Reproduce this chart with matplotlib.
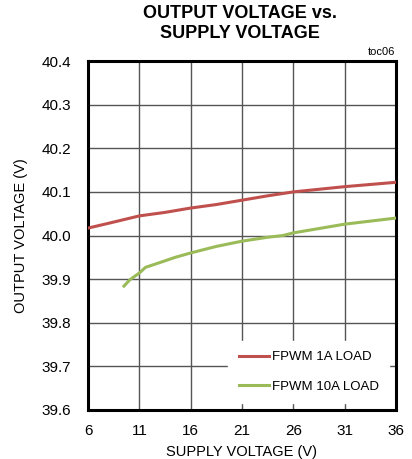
import matplotlib
matplotlib.use("Agg")
import matplotlib.pyplot as plt
from matplotlib import font_manager

names = {f.name for f in font_manager.fontManager.ttflist}
fam = ['Liberation Sans Narrow'] if 'Liberation Sans Narrow' in names else ['Liberation Sans']
plt.rcParams['font.family'] = fam + ['DejaVu Sans']

x_1a = [6, 8, 11, 13.5, 16, 18.5, 21, 23.5, 26, 28.5, 31, 33.5, 36]
y_1a = [40.017, 40.028, 40.045, 40.053, 40.063, 40.071, 40.081, 40.091, 40.100, 40.106, 40.112, 40.117, 40.122]
x_10a = [9.5, 10.1, 11, 11.6, 13, 14.5, 16, 18.5, 21, 23.5, 25, 26, 28.5, 31, 33.5, 36]
y_10a = [39.884, 39.899, 39.914, 39.927, 39.938, 39.950, 39.960, 39.975, 39.987, 39.996, 40.000, 40.006, 40.016, 40.026, 40.033, 40.040]

xticks = [6, 11, 16, 21, 26, 31, 36]
yticks = [39.6, 39.7, 39.8, 39.9, 40.0, 40.1, 40.2, 40.3, 40.4]

fig = plt.figure(figsize=(4.12, 4.59), dpi=100)
ax = fig.add_axes([0.2136, 0.1068, 0.7474, 0.7602])
ax.plot(x_1a, y_1a, color='#c0504d', lw=2.2, label='FPWM 1A LOAD', zorder=3)
ax.plot(x_10a, y_10a, color='#9bbb59', lw=2.2, label='FPWM 10A LOAD', zorder=3)
ax.set_xlim(6, 36)
ax.set_ylim(39.6, 40.4)
ax.set_xticks(xticks)
ax.set_yticks(yticks)
ax.set_xticklabels([str(v) for v in xticks])
ax.set_yticklabels([f"{v:.1f}" for v in yticks])
ax.grid(True, color='#555555', lw=1.0)
ax.tick_params(axis='y', length=0, labelsize=11, pad=12)
ax.tick_params(axis='x', length=0, labelsize=11, pad=10)
for s in ax.spines.values():
    s.set_linewidth(2.2)
    s.set_color('black')
ax.set_xlabel('SUPPLY VOLTAGE (V)', fontsize=10.5, labelpad=5)
ax.set_ylabel('OUTPUT VOLTAGE (V)', fontsize=10.5, labelpad=10)
leg = ax.legend(loc='lower right', bbox_to_anchor=(1.0, 0.0), frameon=True, fancybox=False,
                edgecolor='white', framealpha=1, fontsize=9.5, handlelength=2.3,
                handletextpad=0.2, labelspacing=1.3, borderpad=0.8)
fig.text(0.583, 0.99, 'OUTPUT VOLTAGE vs.\nSUPPLY VOLTAGE', ha='center', va='top',
         fontsize=13, fontweight='bold', linespacing=1.25)
fig.text(0.958, 0.875, 'toc06', ha='right', va='bottom', fontsize=8)
fig.savefig('out.png', dpi=100)
